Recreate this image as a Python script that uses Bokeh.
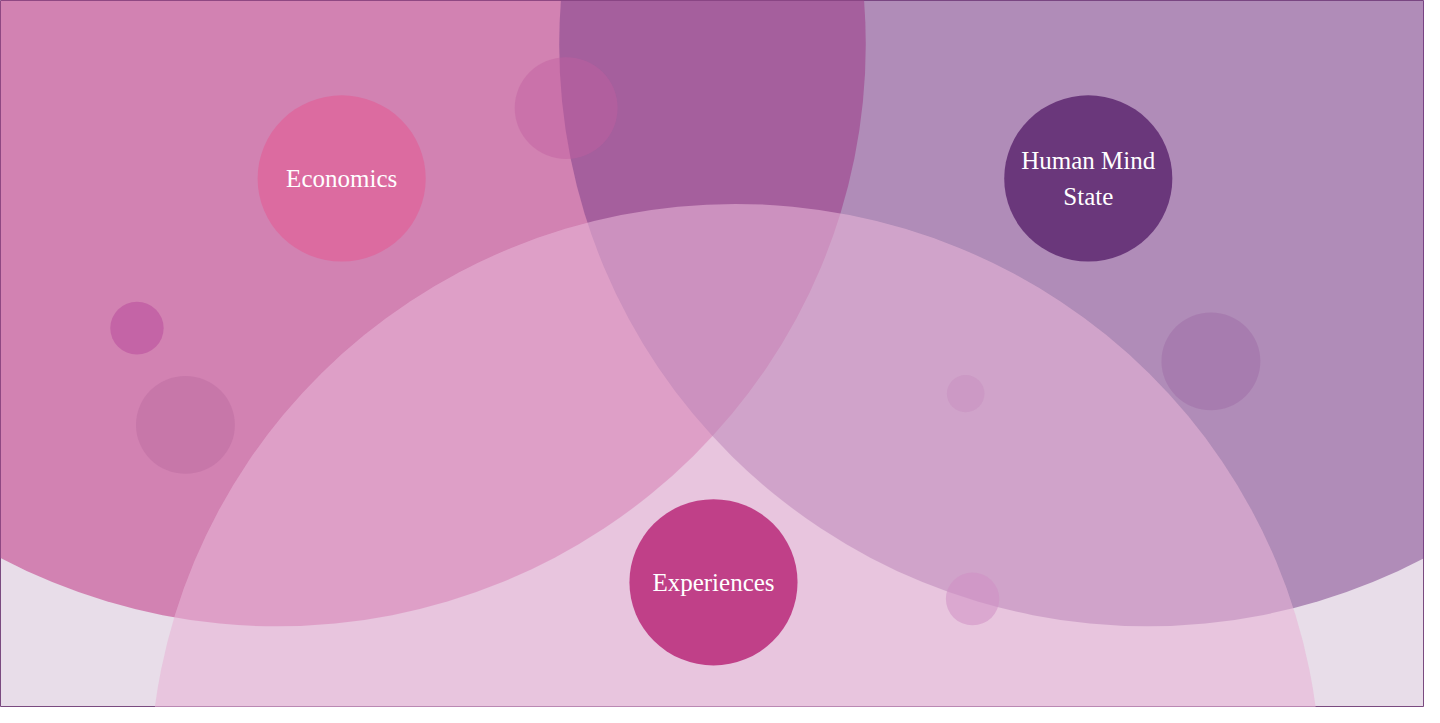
from bokeh.core.properties import value
from bokeh.embed import file_html
from bokeh.models import Range1d
from bokeh.plotting import figure
from bokeh.resources import INLINE

# big sets: centre x, centre y, radius (pixel space of the picture)
big_x = [280, 1160, 743]
big_y = [45, 45, 800]
big_r = [595, 595, 592]
big_color = ["#c3468d", "#783c88", "#e8b5d7"]
big_alpha = [0.6, 0.5, 0.59]

# labelled circles
label_x = [345, 1100, 721]
label_y = [182, 182, 595]
label_r = [85, 85, 85]
label_color = ["#dc6ba0", "#6a377b", "#c04088"]
label_text = ["Economics", "Human Mind\nState", "Experiences"]

# decorative bubbles
dot_x = [572, 138, 187, 1224, 976, 983]
dot_y = [110, 335, 434, 369, 402, 612]
dot_r = [52, 27, 50, 50, 19, 27]
dot_color = ["#c0609f", "#c464a6", "#c070a4", "#a070a8", "#c890c0", "#d090c4"]
dot_alpha = [0.45, 1.0, 0.6, 0.55, 0.5, 0.55]

p = figure(width=1424, height=707, output_backend="svg", toolbar_location=None,
           x_range=Range1d(0, 1440), y_range=Range1d(723, 0), min_border=0)
p.axis.visible = False
p.grid.visible = False
p.background_fill_color = "#e8dde9"
p.border_fill_color = "#e8dde9"
p.outline_line_color = "#7a4a80"

for x, y, r, c, a in zip(big_x, big_y, big_r, big_color, big_alpha):
    p.ellipse(x=x, y=y, width=2 * r, height=2 * r, fill_color=c, fill_alpha=a, line_color=None)

p.ellipse(x=dot_x, y=dot_y, width=[2 * r for r in dot_r], height=[2 * r for r in dot_r],
          fill_color=dot_color, fill_alpha=dot_alpha, line_color=None)

p.ellipse(x=label_x, y=label_y, width=[2 * r for r in label_r], height=[2 * r for r in label_r],
          fill_color=label_color, line_color=None)

p.text(x=label_x, y=label_y, text=label_text, text_align="center", text_baseline="middle",
       text_color="white", text_font=value("Liberation Serif"), text_font_size="25px",
       text_line_height=1.35)

open("out.html", "w").write(file_html(p, INLINE))
